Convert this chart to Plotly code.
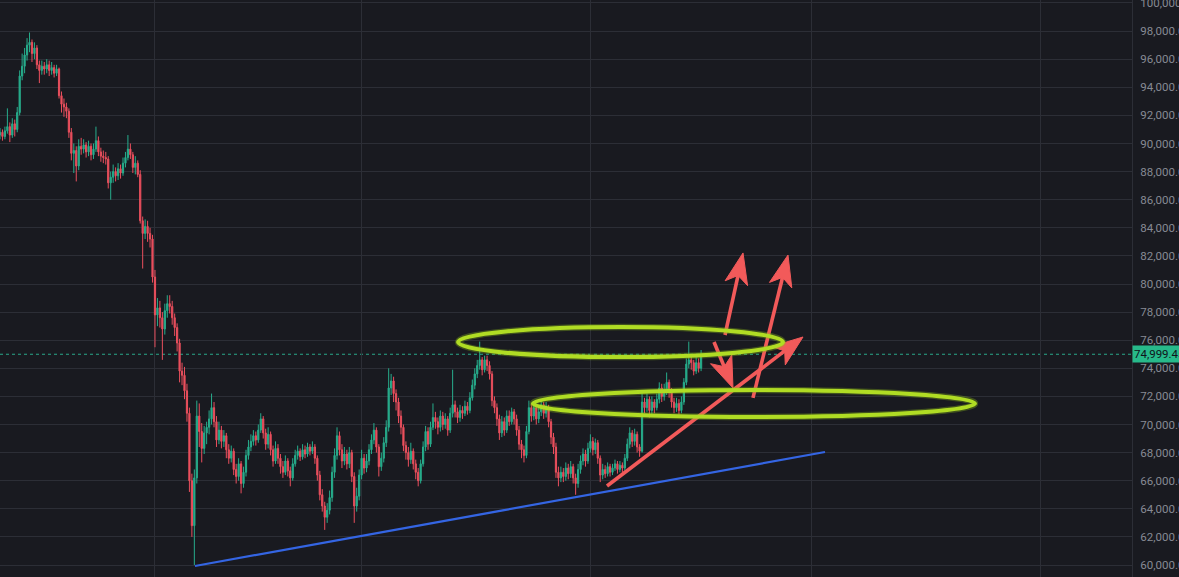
import math
import pandas as pd
import plotly.graph_objects as go

# ---------------- data (prices in thousands of USD, 8h candles from 2026-01-11 00:00) ----------------
opens = [
    90.6, 90.8, 90.5, 90.9, 91.2, 90.6, 91.4, 91.0, 92.2, 94.8, 95.5, 96.3,
    97.0, 97.2, 96.4, 96.8, 95.6, 95.2, 95.5, 95.3, 95.6, 95.2, 95.4, 95.0,
    95.3, 93.4, 92.8, 92.6, 92.3, 90.8, 89.3, 89.5, 88.4, 89.8, 89.6, 89.9,
    89.4, 89.8, 89.2, 89.6, 90.2, 89.4, 89.1, 89.0, 88.9, 87.2, 87.6, 88.0,
    87.7, 88.2, 87.9, 88.6, 89.0, 89.6, 89.2, 88.3, 88.6, 87.8, 84.5, 83.6,
    84.1, 83.6, 83.2, 80.5, 77.8, 78.3, 77.6, 76.8, 78.1, 78.6, 78.4, 77.6,
    76.9, 75.8, 73.8, 73.5, 72.4, 70.8, 66.0, 62.8, 66.2, 70.6, 69.5, 68.3,
    69.4, 69.8, 70.4, 71.2, 70.2, 68.9, 69.6, 68.8, 69.2, 68.2, 67.6, 68.1,
    66.8, 66.3, 67.2, 65.8, 66.6, 67.8, 68.4, 68.8, 69.2, 68.9, 69.6, 70.4,
    69.4, 68.6, 69.3, 68.2, 67.4, 68.3, 67.6, 67.0, 66.6, 67.4, 66.7, 66.2,
    67.2, 67.8, 68.1, 67.7, 68.2, 67.9, 68.4, 68.1, 68.4, 67.6, 66.4, 65.0,
    64.2, 63.4, 63.9, 64.8, 66.6, 67.8, 69.2, 68.2, 67.4, 67.9, 67.2, 68.0,
    66.3, 64.2, 64.9, 66.4, 67.6, 66.9, 67.4, 68.2, 68.9, 69.6, 68.4, 67.0,
    67.6, 68.7, 69.8, 72.6, 73.1, 72.2, 71.6, 70.6, 69.8, 68.5, 68.0, 67.5,
    68.1, 67.2, 66.6, 66.0, 67.2, 68.4, 69.5, 68.6, 69.8, 70.5, 70.2, 69.8,
    70.6, 70.0, 70.4, 69.6, 70.8, 71.4, 70.9, 70.5, 71.0, 70.8, 71.3, 71.0,
    71.9, 72.8, 73.6, 74.2, 74.6, 73.9, 74.6, 74.2, 73.6, 71.7, 71.2, 70.4,
    69.4, 70.2, 69.6, 70.6, 70.2, 70.9, 70.4, 69.6, 68.6, 68.2, 67.8, 69.5,
    71.2, 70.6, 71.2, 70.4, 70.9, 71.4, 70.8, 71.2, 70.2, 69.1, 68.4, 66.6,
    66.2, 66.6, 66.3, 66.9, 66.5, 67.0, 66.2, 65.8, 66.8, 67.4, 67.9, 67.4,
    68.3, 68.8, 68.2, 68.7, 67.6, 66.4, 66.8, 66.5, 67.0, 66.6, 66.9, 67.2,
    66.8, 67.1, 66.9, 67.6, 68.6, 69.4, 68.8, 69.3, 68.4, 68.1, 71.6, 71.2,
    71.8, 71.0, 71.6, 71.2, 71.8, 72.6, 72.0, 72.4, 73.0, 72.4, 71.6, 71.2,
    71.5, 71.0, 71.6, 73.0, 74.3, 74.6, 74.4, 73.8, 74.4, 74.0,
]
highs = [
    91.1, 91.0, 91.2, 92.5, 91.5, 91.8, 91.7, 92.6, 95.2, 96.4, 96.8, 97.5,
    97.9, 97.4, 97.2, 97.0, 95.9, 95.9, 95.8, 96.0, 95.9, 95.8, 95.6, 95.6,
    95.4, 93.7, 93.2, 92.9, 92.5, 91.1, 90.0, 89.8, 90.3, 90.4, 90.3, 90.1,
    90.2, 90.0, 90.0, 91.2, 90.5, 89.7, 89.5, 89.4, 89.1, 88.0, 88.5, 88.3,
    88.6, 88.5, 89.0, 89.4, 90.6, 90.0, 89.4, 89.1, 88.8, 88.1, 84.8, 84.6,
    84.5, 84.0, 83.5, 81.0, 79.0, 78.8, 78.0, 78.6, 79.2, 79.2, 78.8, 77.9,
    77.2, 76.1, 74.4, 74.1, 72.9, 71.2, 66.5, 66.8, 71.7, 71.5, 70.1, 69.9,
    70.2, 71.0, 72.2, 71.6, 70.6, 70.2, 69.9, 69.6, 69.4, 68.6, 68.5, 68.3,
    67.2, 67.6, 67.4, 67.0, 68.2, 68.9, 69.3, 69.6, 69.5, 70.0, 70.8, 70.6,
    69.7, 69.8, 69.5, 68.5, 68.8, 68.6, 67.9, 67.4, 67.8, 67.6, 67.0, 67.6,
    68.2, 68.5, 68.3, 68.6, 68.5, 68.7, 68.6, 68.8, 68.6, 67.8, 66.7, 65.4,
    64.5, 64.4, 65.3, 67.0, 68.3, 69.8, 69.5, 68.6, 68.4, 68.2, 68.4, 68.2,
    66.6, 65.5, 66.8, 68.2, 67.9, 67.9, 68.6, 69.3, 70.1, 69.8, 68.6, 68.0,
    69.1, 70.3, 74.0, 73.6, 73.4, 72.5, 71.9, 71.0, 70.0, 68.8, 68.4, 68.7,
    68.3, 67.5, 66.9, 67.5, 68.8, 69.9, 69.8, 70.2, 71.5, 70.9, 70.5, 71.0,
    70.9, 70.8, 70.6, 71.2, 73.9, 71.7, 71.2, 71.4, 71.3, 71.7, 71.6, 72.3,
    73.2, 74.0, 74.6, 75.9, 74.8, 74.9, 74.9, 74.5, 73.8, 72.0, 71.5, 70.7,
    70.6, 70.5, 71.0, 71.0, 71.2, 71.1, 70.7, 69.9, 68.9, 68.5, 69.9, 71.7,
    71.5, 71.6, 71.4, 71.3, 71.8, 71.6, 71.6, 71.4, 70.4, 69.4, 68.7, 67.0,
    67.0, 66.9, 67.3, 67.2, 67.4, 67.2, 66.5, 67.2, 67.8, 68.3, 68.2, 68.7,
    69.3, 69.1, 69.0, 68.9, 67.8, 67.2, 67.1, 67.3, 67.2, 67.2, 67.5, 67.4,
    67.4, 67.3, 67.9, 69.0, 69.8, 69.6, 69.7, 69.5, 68.6, 72.2, 71.9, 72.2,
    72.0, 72.0, 71.8, 72.2, 73.0, 72.9, 72.9, 73.7, 73.2, 72.6, 71.9, 71.9,
    71.8, 72.0, 73.3, 74.7, 75.9, 75.0, 74.6, 74.8, 74.7, 75.3,
]
lows = [
    90.3, 90.2, 90.3, 90.7, 90.1, 90.4, 90.5, 90.8, 92.0, 94.5, 95.0, 95.9,
    96.5, 95.8, 96.0, 95.3, 94.3, 94.9, 94.9, 95.0, 94.8, 94.9, 94.7, 94.8,
    93.2, 92.2, 91.9, 91.8, 90.4, 88.8, 87.9, 87.3, 88.1, 89.2, 89.3, 89.0,
    89.1, 88.8, 88.9, 89.4, 89.1, 88.7, 88.6, 88.5, 86.8, 86.0, 87.2, 87.3,
    87.4, 87.5, 87.7, 88.3, 88.8, 88.9, 87.9, 87.8, 87.6, 84.3, 81.1, 83.2,
    83.0, 82.6, 80.1, 75.5, 77.0, 76.9, 74.6, 76.4, 77.6, 77.9, 77.1, 76.3,
    75.2, 73.0, 72.8, 71.8, 70.2, 65.2, 62.0, 60.0, 65.8, 68.4, 67.3, 67.9,
    68.6, 69.3, 70.0, 69.8, 68.4, 68.6, 68.3, 68.4, 67.6, 67.2, 67.3, 66.4,
    65.8, 66.0, 65.1, 65.5, 66.3, 67.5, 68.1, 68.5, 68.5, 68.7, 69.4, 69.0,
    68.2, 68.3, 67.8, 67.0, 67.2, 67.2, 66.5, 66.2, 66.4, 66.3, 65.6, 66.0,
    67.0, 67.5, 67.4, 67.5, 67.6, 67.7, 67.8, 67.9, 67.2, 66.0, 64.6, 63.8,
    62.5, 63.0, 63.6, 64.5, 66.2, 67.5, 67.8, 66.9, 67.1, 66.8, 66.9, 65.9,
    63.0, 63.8, 64.6, 66.1, 66.5, 66.6, 67.1, 67.9, 68.6, 68.0, 66.3, 66.7,
    67.3, 68.4, 69.5, 72.1, 71.6, 71.0, 70.1, 69.3, 68.1, 67.5, 67.0, 67.2,
    66.8, 66.1, 65.6, 65.8, 67.0, 68.1, 68.2, 68.4, 69.6, 69.7, 69.3, 69.5,
    69.6, 69.7, 69.2, 69.4, 70.5, 70.5, 70.1, 70.2, 70.4, 70.6, 70.7, 70.8,
    71.7, 72.5, 73.3, 73.9, 73.5, 73.7, 73.8, 73.2, 71.3, 70.8, 69.9, 68.9,
    69.1, 69.2, 69.4, 69.9, 70.0, 70.0, 69.2, 68.2, 67.6, 67.3, 67.6, 69.3,
    70.2, 70.3, 70.0, 70.1, 70.6, 70.4, 70.5, 69.8, 68.6, 67.9, 66.2, 65.6,
    65.9, 65.9, 66.0, 66.1, 66.2, 65.8, 65.0, 65.5, 66.5, 67.1, 67.0, 67.2,
    68.0, 67.8, 67.9, 67.2, 65.9, 66.1, 66.2, 66.3, 66.3, 66.4, 66.7, 66.5,
    66.6, 66.6, 66.7, 67.4, 68.3, 68.4, 68.5, 68.0, 67.7, 68.0, 70.8, 70.9,
    70.5, 70.7, 70.8, 71.0, 71.5, 71.6, 71.7, 72.1, 71.9, 71.2, 70.8, 70.9,
    70.7, 70.8, 71.4, 72.8, 74.0, 73.9, 73.5, 73.6, 73.7, 73.8,
]
closes = [
    90.8, 90.5, 90.9, 91.2, 90.6, 91.4, 91.0, 92.2, 94.8, 95.5, 96.3, 97.0,
    97.2, 96.4, 96.8, 95.6, 95.2, 95.5, 95.3, 95.6, 95.2, 95.4, 95.0, 95.3,
    93.4, 92.8, 92.6, 92.3, 90.8, 89.3, 89.5, 88.4, 89.8, 89.6, 89.9, 89.4,
    89.8, 89.2, 89.6, 90.2, 89.4, 89.1, 89.0, 88.9, 87.2, 87.6, 88.0, 87.7,
    88.2, 87.9, 88.6, 89.0, 89.6, 89.2, 88.3, 88.6, 87.8, 84.5, 83.6, 84.1,
    83.6, 83.2, 80.5, 77.8, 78.3, 77.6, 76.8, 78.1, 78.6, 78.4, 77.6, 76.9,
    75.8, 73.8, 73.5, 72.4, 70.8, 66.0, 62.8, 66.2, 70.6, 69.5, 68.3, 69.4,
    69.8, 70.4, 71.2, 70.2, 68.9, 69.6, 68.8, 69.2, 68.2, 67.6, 68.1, 66.8,
    66.3, 67.2, 65.8, 66.6, 67.8, 68.4, 68.8, 69.2, 68.9, 69.6, 70.4, 69.4,
    68.6, 69.3, 68.2, 67.4, 68.3, 67.6, 67.0, 66.6, 67.4, 66.7, 66.2, 67.2,
    67.8, 68.1, 67.7, 68.2, 67.9, 68.4, 68.1, 68.4, 67.6, 66.4, 65.0, 64.2,
    63.4, 63.9, 64.8, 66.6, 67.8, 69.2, 68.2, 67.4, 67.9, 67.2, 68.0, 66.3,
    64.2, 64.9, 66.4, 67.6, 66.9, 67.4, 68.2, 68.9, 69.6, 68.4, 67.0, 67.6,
    68.7, 69.8, 72.6, 73.1, 72.2, 71.6, 70.6, 69.8, 68.5, 68.0, 67.5, 68.1,
    67.2, 66.6, 66.0, 67.2, 68.4, 69.5, 68.6, 69.8, 70.5, 70.2, 69.8, 70.6,
    70.0, 70.4, 69.6, 70.8, 71.4, 70.9, 70.5, 71.0, 70.8, 71.3, 71.0, 71.9,
    72.8, 73.6, 74.2, 74.6, 73.9, 74.6, 74.2, 73.6, 71.7, 71.2, 70.4, 69.4,
    70.2, 69.6, 70.6, 70.2, 70.9, 70.4, 69.6, 68.6, 68.2, 67.8, 69.5, 71.2,
    70.6, 71.2, 70.4, 70.9, 71.4, 70.8, 71.2, 70.2, 69.1, 68.4, 66.6, 66.2,
    66.6, 66.3, 66.9, 66.5, 67.0, 66.2, 65.8, 66.8, 67.4, 67.9, 67.4, 68.3,
    68.8, 68.2, 68.7, 67.6, 66.4, 66.8, 66.5, 67.0, 66.6, 66.9, 67.2, 66.8,
    67.1, 66.9, 67.6, 68.6, 69.4, 68.8, 69.3, 68.4, 68.1, 71.6, 71.2, 71.8,
    71.0, 71.6, 71.2, 71.8, 72.6, 72.0, 72.4, 73.0, 72.4, 71.6, 71.2, 71.5,
    71.0, 71.6, 73.0, 74.3, 74.6, 74.4, 73.8, 74.4, 74.0, 74.9994,
]
first_candle_time = "2026-01-11 00:00"
candle_freq = "8h"

ytick_values = [60000, 62000, 64000, 66000, 68000, 70000, 72000, 74000, 76000, 78000,
                80000, 82000, 84000, 86000, 88000, 90000, 92000, 94000, 96000, 98000, 100000]
ytick_labels = ["60,000.00", "62,000.00", "64,000.00", "66,000.00", "68,000.00", "70,000.00",
                "72,000.00", "74,000.00", "76,000.00", "78,000.00", "80,000.00", "82,000.00",
                "84,000.00", "86,000.00", "88,000.00", "90,000.00", "92,000.00", "94,000.00",
                "96,000.00", "98,000.00", "100,000.00"]
last_price_label = "74,999.45"

# drawings (data coordinates)
support_line = [("2026-02-06 10:00", 59930), ("2026-05-02 19:00", 68040)]
zone_upper = dict(x0="2026-03-14 01:30", x1="2026-04-27 02:20", y0=74800, y1=76940)
zone_lower = dict(x0="2026-03-24 05:20", x1="2026-05-23 02:40", y0=70530, y1=72460)
arrows = [
    (("2026-04-03 06:00", 65620), ("2026-04-29 19:25", 76230)),
    (("2026-04-17 18:00", 75870), ("2026-04-20 07:40", 72600)),
    (("2026-04-19 05:45", 76370), ("2026-04-21 16:20", 82210)),
    (("2026-04-23 00:45", 71890), ("2026-04-27 18:40", 82060)),
]

# ---------------- style ----------------
BG = "#191a20"
GRID = "#2c2e36"
UP = "#27ad8c"
DOWN = "#ea4f5d"
LIME = "#b0dc24"
RED = "#f25a5a"
BLUE = "#3465e3"
LABEL_GREEN = "#27b98a"

W, H = 1179, 577
MR = 47
X0 = pd.Timestamp("2026-01-11 00:00")
X1 = pd.Timestamp("2026-06-13 09:20")
Y0, Y1 = 59146, 100213
PW, PH = W - MR, H


def to_px(t, p):
    t = pd.Timestamp(t)
    return ((t - X0) / (X1 - X0) * PW, (p - Y0) / (Y1 - Y0) * PH)


def from_px(x, y):
    return (X0 + (X1 - X0) * (x / PW), Y0 + (Y1 - Y0) * (y / PH))


times = pd.date_range(first_candle_time, periods=len(closes), freq=candle_freq)

fig = go.Figure()
fig.add_trace(go.Candlestick(
    x=times,
    open=[v * 1000 for v in opens],
    high=[v * 1000 for v in highs],
    low=[v * 1000 for v in lows],
    close=[v * 1000 for v in closes],
    increasing=dict(line=dict(color=UP, width=1), fillcolor=UP),
    decreasing=dict(line=dict(color=DOWN, width=1), fillcolor=DOWN),
    whiskerwidth=0,
    hoverinfo="skip",
))

# support line
fig.add_trace(go.Scatter(
    x=[pd.Timestamp(p[0]) for p in support_line], y=[p[1] for p in support_line],
    mode="lines", line=dict(color=BLUE, width=2.2), hoverinfo="skip"))

# arrows
L, HW, NOTCH = 31, 11.5, 8
for tail, tip in arrows:
    tx, ty = to_px(*tail)
    hx, hy = to_px(*tip)
    dx, dy = hx - tx, hy - ty
    d = math.hypot(dx, dy)
    ux, uy = dx / d, dy / d
    nx, ny = -uy, ux
    nxp, nyp = hx - ux * (L - NOTCH), hy - uy * (L - NOTCH)
    b1 = (hx - ux * L + nx * HW, hy - uy * L + ny * HW)
    b2 = (hx - ux * L - nx * HW, hy - uy * L - ny * HW)
    shaft = [from_px(tx, ty), from_px(nxp + ux * 2, nyp + uy * 2)]
    fig.add_trace(go.Scatter(x=[s[0] for s in shaft], y=[s[1] for s in shaft], mode="lines",
                             line=dict(color=RED, width=3.6), hoverinfo="skip"))
    head = [from_px(hx, hy), from_px(*b1), from_px(nxp, nyp), from_px(*b2), from_px(hx, hy)]
    fig.add_trace(go.Scatter(x=[s[0] for s in head], y=[s[1] for s in head], mode="lines",
                             fill="toself", fillcolor=RED, line=dict(color=RED, width=1),
                             hoverinfo="skip"))

# ellipses (soft edge + core)
for z in (zone_upper, zone_lower):
    fig.add_shape(type="circle", xref="x", yref="y", layer="above",
                  x0=z["x0"], x1=z["x1"], y0=z["y0"], y1=z["y1"],
                  line=dict(color="rgba(140,190,25,0.35)", width=6.5))
    fig.add_shape(type="circle", xref="x", yref="y", layer="above",
                  x0=z["x0"], x1=z["x1"], y0=z["y0"], y1=z["y1"],
                  line=dict(color=LIME, width=4))

last = closes[-1] * 1000
fig.add_shape(type="line", xref="paper", yref="y", x0=0, x1=1, y0=last, y1=last, layer="below",
              line=dict(color="#2aa889", width=1, dash="dot"))
fig.add_annotation(xref="paper", yref="y", x=1, y=last, xanchor="left", yanchor="middle",
                   text=last_price_label, showarrow=False, bgcolor=LABEL_GREEN,
                   font=dict(family="Roboto", size=11.5, color="#10131a"),
                   borderpad=1, width=60, align="left")

fig.update_layout(
    width=W, height=H,
    margin=dict(l=0, r=MR, t=0, b=0),
    paper_bgcolor=BG, plot_bgcolor=BG,
    showlegend=False,
    xaxis=dict(type="date", range=[X0, X1], showticklabels=False, showgrid=True,
               gridcolor=GRID, gridwidth=1, dtick="M1", tick0="2026-01-01", ticks="",
               zeroline=False, showline=False, rangeslider=dict(visible=False),
               automargin=False, fixedrange=True),
    yaxis=dict(side="right", range=[Y0, Y1], tickvals=ytick_values, ticktext=ytick_labels,
               showgrid=True, gridcolor=GRID, gridwidth=1, zeroline=False,
               showline=True, linecolor=GRID, linewidth=1, ticks="", ticklabelstandoff=5,
               ticklabeloverflow="allow",
               tickfont=dict(family="Roboto", size=11.5, color="#878a94"),
               automargin=False, fixedrange=True),
)

fig.write_html("out.html", config={"displayModeBar": False},
               post_script="document.body.style.margin='0';document.body.style.overflow='hidden';")
